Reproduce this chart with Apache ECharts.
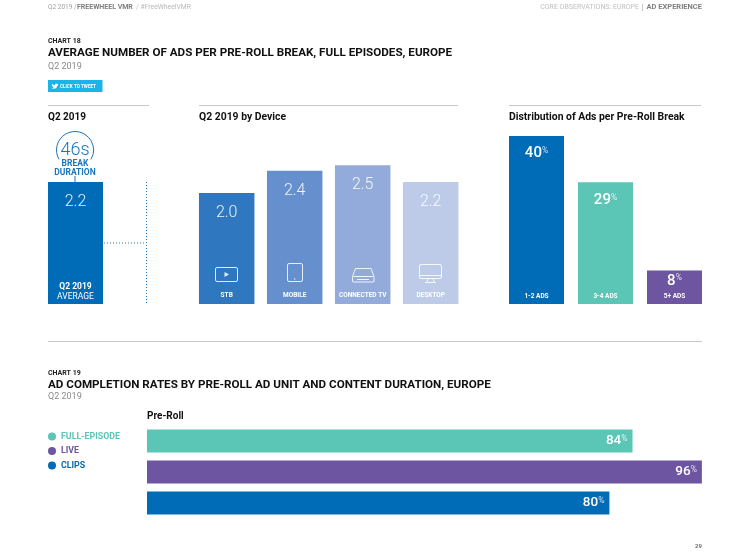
<!DOCTYPE html>
<html><head><meta charset="utf-8">
<style>html,body{margin:0;padding:0;background:#fff}#c{width:750px;height:552px}</style>
<script src="https://cdn.jsdelivr.net/npm/echarts@6/dist/echarts.min.js"></script>
</head><body><div id="c"></div>
<script>
const avgCats = ['Q2 2019\nAVERAGE'];
const avgValues = [2.2];
const deviceCats = ['STB','MOBILE','CONNECTED TV','DESKTOP'];
const deviceValues = [2.0,2.4,2.5,2.2];
const deviceColors = ['#2f78bf','#6690cd','#92abda','#bdcbe8'];
const distCats = ['1-2 ADS','3-4 ADS','5+ ADS'];
const distValues = [40,29,8];
const distColors = ['#006bb6','#5bc5b6','#6e55a2'];
const completionNames = ['FULL-EPISODE','LIVE','CLIPS'];
const completionValues = [84,96,80];
const completionColors = ['#5bc5b6','#6e55a2','#006bb6'];

const F='Roboto, sans-serif', BLUE='#1a75bb', LINE='#c8c8c8', W='rgba(255,255,255,0.85)';
function T(text,x,y,size,weight,fill,align){
  return {type:'text',x,y,silent:true,z:10,style:{text,fontFamily:F,fontSize:size,fontWeight:weight,fill,align:align||'left',verticalAlign:'middle'}};
}
function R(x1,y,x2,color){return {type:'line',silent:true,shape:{x1,y1:y,x2,y2:y},style:{stroke:color||LINE,lineWidth:1}};}
function S(shapeType,shape){return {type:shapeType,silent:true,z:10,shape,style:{stroke:W,lineWidth:1,fill:'none'}};}
const birdPts=[[24,4.5],[21,5.5],[23.5,2.5],[20,4],[16,2],[12,5],[12,8],[6,6.5],[1.6,3],[1,5.5],[3,9.7],[1,9],[5,14],[3,14],[7.5,17.5],[0,19.5],[7.5,21.7],[16,19],[21.5,8]];

const graphics=[
  T('Q2 2019 /',48,7.5,6.5,400,'#a0a0a0'),
  T('FREEWHEEL VMR',77,7.5,7,700,'#808080'),
  T('/ #FreeWheelVMR',136,7.5,6.8,400,'#b8b8b8'),
  T('CORE OBSERVATIONS: EUROPE',639,7.5,7,400,'#c0c0c0','right'),
  {type:'line',silent:true,shape:{x1:642.5,y1:4,x2:642.5,y2:11},style:{stroke:'#c8c8c8',lineWidth:1}},
  T('AD EXPERIENCE',702,7.5,7.5,700,'#808080','right'),
  T('CHART 18',48,41,7,700,'#222'),
  T('AVERAGE NUMBER OF ADS PER PRE-ROLL BREAK, FULL EPISODES, EUROPE',48,53,11.65,700,'#111'),
  T('Q2 2019',48,67,9,400,'#8a8a8a'),
  {type:'rect',silent:true,shape:{x:48,y:80,width:54.5,height:12},style:{fill:'#1cb4e8'}},
  {type:'polygon',silent:true,shape:{points:birdPts.map(p=>[51.5+p[0]*0.29,83+p[1]*0.27])},style:{fill:'#fff'}},
  T('CLICK TO TWEET',60,86.5,4.6,700,'#fff'),
  R(48,105.5,149),R(199,105.5,458),R(509,105.5,701),
  T('Q2 2019',48,117,10,700,'#111'),
  T('Q2 2019 by Device',199,117,10.4,700,'#111'),
  T('Distribution of Ads per Pre-Roll Break',509,117,10.4,700,'#111'),
  {type:'arc',silent:true,shape:{cx:75,cy:150,r:18.5,startAngle:Math.PI*0.83,endAngle:Math.PI*0.17,clockwise:true},style:{stroke:BLUE,lineWidth:1,fill:'none'}},
  T('46s',75,150.5,18,300,BLUE,'center'),
  T('BREAK',75,163.5,8.5,700,BLUE,'center'),
  T('DURATION',75,172.5,8.5,700,BLUE,'center'),
  {type:'line',silent:true,shape:{x1:75,y1:176,x2:75,y2:182},style:{stroke:BLUE,lineWidth:1}},
  {type:'line',silent:true,shape:{x1:146.5,y1:182,x2:146.5,y2:304},style:{stroke:BLUE,lineWidth:1,lineDash:[1,2]}},
  {type:'line',silent:true,shape:{x1:104,y1:243,x2:146,y2:243},style:{stroke:BLUE,lineWidth:1,lineDash:[1,2]}},
  // device icons
  S('rect',{x:215.5,y:267.5,width:22,height:14,r:1.5}),
  {type:'polygon',silent:true,z:10,shape:{points:[[224.5,272],[224.5,277],[229,274.5]]},style:{fill:W}},
  S('rect',{x:287.5,y:263.5,width:15,height:18,r:1.5}),
  {type:'circle',silent:true,z:10,shape:{cx:294.8,cy:279,r:0.7},style:{fill:W}},
  S('polyline',{points:[[352.5,276.5],[355.5,268.5],[371,268.5],[374,276.5]]}),
  S('rect',{x:352.5,y:276.5,width:21.5,height:5.5,r:1}),
  S('line',{x1:357,y1:279.5,x2:369,y2:279.5}),
  S('rect',{x:419.5,y:264.5,width:22,height:14,r:1.5}),
  S('line',{x1:419.5,y1:275.5,x2:441.5,y2:275.5}),
  S('line',{x1:428,y1:278.5,x2:427,y2:282}),
  S('line',{x1:433,y1:278.5,x2:434,y2:282}),
  S('line',{x1:425,y1:282.5,x2:436,y2:282.5}),
  R(48,341.5,702),
  T('CHART 19',48,373,7,700,'#222'),
  T('AD COMPLETION RATES BY PRE-ROLL AD UNIT AND CONTENT DURATION, EUROPE',48,385,11.65,700,'#111'),
  T('Q2 2019',48,397,9,400,'#8a8a8a'),
  T('Pre-Roll',147,416,10,700,'#111'),
  T('29',702,546,6,700,'#707070','right')
];

const pctLabel=(size,pos,dist)=>({show:true,position:pos,distance:dist,color:'#fff',fontFamily:F,
  formatter:p=>'{v|'+p.value+'}{p|%}',
  rich:{v:{fontSize:size,fontWeight:500,color:'#fff',fontFamily:F},
        p:{fontSize:8.5,color:'rgba(255,255,255,0.8)',verticalAlign:'top',fontFamily:F,padding:[0,0,4,0]}}});
const numLabel={show:true,position:'insideTop',distance:12,color:'rgba(255,255,255,0.9)',fontFamily:F,fontWeight:300,fontSize:16,formatter:p=>p.value.toFixed(1)};
const catAxis=(gridIndex,data,margin,size)=>({type:'category',gridIndex,data,z:6,axisLine:{show:false},axisTick:{show:false},
  axisLabel:{inside:true,margin,interval:0,color:'#fff',fontFamily:F,fontWeight:700,fontSize:size,hideOverlap:false}});
const valAxis=(gridIndex,max)=>({type:'value',gridIndex,min:0,max,show:false,splitLine:{show:false}});
const avgAxis=catAxis(0,avgCats,2,8);
avgAxis.axisLabel.formatter=v=>{const p=v.split('\n');return '{a|'+p[0]+'}\n{b|'+p[1]+'}';};
avgAxis.axisLabel.rich={a:{fontFamily:F,fontWeight:700,fontSize:8.5,color:'#fff',lineHeight:10},b:{fontFamily:F,fontWeight:400,fontSize:8.5,color:'#fff',lineHeight:10}};

const option={
  animation:false,backgroundColor:'#fff',
  legend:{left:48,top:432,padding:0,orient:'vertical',itemWidth:8,itemHeight:8,itemGap:5.5,icon:'circle',selectedMode:false,
    data:completionNames.map((n,i)=>({name:n,textStyle:{color:completionColors[i],fontFamily:F,fontWeight:700,fontSize:8.8}}))},
  grid:[
    {left:48,width:55,top:137.5,height:166.5},
    {left:192.7,width:272,top:137.5,height:166.5},
    {left:502,width:207,top:94,height:210},
    {left:147,width:578,top:425.5,height:93}
  ],
  xAxis:[avgAxis,catAxis(1,deviceCats,5,6.5),catAxis(2,distCats,4,6.5),
    {type:'value',gridIndex:3,min:0,max:100,show:false,splitLine:{show:false}}],
  yAxis:[valAxis(0,3),valAxis(1,3),valAxis(2,50),
    {type:'category',gridIndex:3,inverse:true,data:['Pre-Roll'],show:false}],
  series:[
    {type:'bar',xAxisIndex:0,yAxisIndex:0,data:avgValues,barWidth:55,itemStyle:{color:'#006bb6'},label:numLabel},
    {type:'bar',xAxisIndex:1,yAxisIndex:1,barWidth:55.5,label:numLabel,
      data:deviceValues.map((v,i)=>({value:v,itemStyle:{color:deviceColors[i]}}))},
    {type:'bar',xAxisIndex:2,yAxisIndex:2,barWidth:55,label:pctLabel(15,'insideTop',12),
      data:distValues.map((v,i)=>({value:v,itemStyle:{color:distColors[i]},label:{distance:v<10?3:(v<35?11:10)}}))},
    ...completionNames.map((n,i)=>({name:n,type:'bar',xAxisIndex:3,yAxisIndex:3,data:[completionValues[i]],
      barWidth:23,barGap:'35%',itemStyle:{color:completionColors[i]},label:pctLabel(13.5,'insideRight',5)}))
  ],
  graphic:{elements:graphics}
};
const chart=echarts.init(document.getElementById('c'),null,{renderer:'canvas'});
chart.setOption(option);
</script></body></html>
